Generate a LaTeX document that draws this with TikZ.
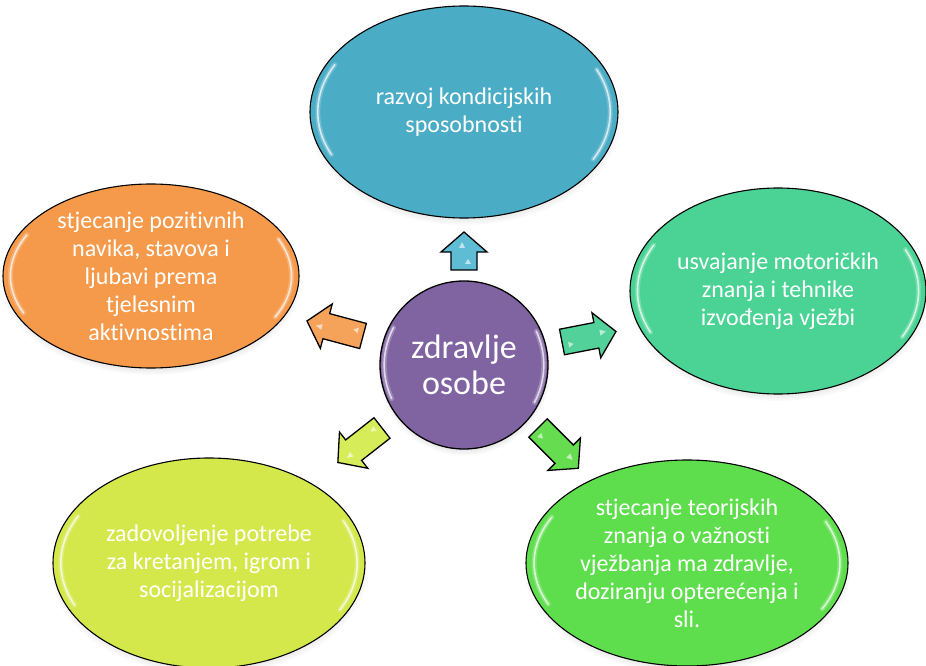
\documentclass[tikz,border=0pt]{standalone}
\usepackage{fontspec}
\setmainfont{Carlito}[Ligatures=NoCommon]
\usetikzlibrary{shapes.geometric,calc,shadows}
\definecolor{cblue}{HTML}{4BACC6}
\definecolor{corange}{HTML}{F5994A}
\definecolor{cteal}{HTML}{4AD394}
\definecolor{cyellow}{HTML}{D4E84C}
\definecolor{cgreen}{HTML}{5EDE4C}
\definecolor{cpurple}{HTML}{8064A2}
\definecolor{ablue}{HTML}{5EBDD5}
\definecolor{aorange}{HTML}{F5A25A}
\definecolor{ateal}{HTML}{52D29A}
\definecolor{ayellow}{HTML}{D6EC58}
\definecolor{agreen}{HTML}{66DC50}
\tikzset{
  bubble/.style={ellipse, draw=black, line width=1.1pt, text=white, align=center,
    inner sep=0pt, font=\fontsize{24}{28}\selectfont,
    circular drop shadow={shadow xshift=0pt, shadow yshift=-5pt, shadow scale=1.02, opacity=0.35}},
  hub/.style={circle, draw=black, line width=1.3pt, text=white, align=center, inner sep=0pt,
    font=\fontsize{34}{36}\selectfont, fill=cpurple,
    circular drop shadow={shadow xshift=0pt, shadow yshift=-4pt, shadow scale=1.03, opacity=0.35}},
  blockarrow/.style={draw=black, line width=1.3pt, line join=miter},
  glosswide/.style={white, line width=5pt, opacity=0.22, line cap=round},
  glossline/.style={white, line width=1.6pt, opacity=0.7, line cap=round}
}
\newcommand{\glossarc}[5]{%
  \draw[glosswide] ($(#1.center)+(#4:{#2*0.95} and {#3*0.95})$)
     arc[start angle=#4, end angle=#5, x radius={#2*0.95}, y radius={#3*0.95}];
  \draw[glossline] ($(#1.center)+(#4:{#2*0.95} and {#3*0.95})$)
     arc[start angle=#4, end angle=#5, x radius={#2*0.95}, y radius={#3*0.95}];}
\newcommand{\gloss}[3]{\glossarc{#1}{#2}{#3}{152}{205}\glossarc{#1}{#2}{#3}{-28}{25}}
\newcommand{\blockarr}[4]{% tail coordinate, angle, length, colour
  \begin{scope}[shift={(#1)}, rotate=#2]
    \draw[blockarrow, fill=#4] (0,-13) -- ({#3-20},-13) -- ({#3-20},-23) -- (#3,0)
      -- ({#3-20},23) -- ({#3-20},13) -- (0,13) -- cycle;
    \fill[white, opacity=0.6] ({#3-16},5) -- ({#3-10},2) -- ({#3-16},-1) -- cycle;
    \fill[white, opacity=0.6] (6,-7) -- (11,-4) -- (6,-1) -- cycle;
  \end{scope}}
\begin{document}
\begin{tikzpicture}[x=1pt,y=1pt]
\useasboundingbox (0,0) rectangle (926,665);
% bubbles
\node[bubble, fill=cblue, minimum width=308pt, minimum height=212pt] (top) at (464,553)
  {razvoj kondicijskih\\sposobnosti};
\node[bubble, fill=corange, minimum width=296pt, minimum height=184pt] (left) at (151,389)
  {stjecanje pozitivnih\\navika, stavova i\\ljubavi prema\\tjelesnim\\aktivnostima};
\node[bubble, fill=cteal, minimum width=296pt, minimum height=206pt] (right) at (778,374)
  {usvajanje motoričkih\\znanja i tehnike\\izvođenja vježbi};
\node[bubble, fill=cyellow, minimum width=312pt, minimum height=210pt] (lowleft) at (209,102)
  {zadovoljenje potrebe\\za kretanjem, igrom i\\socijalizacijom};
\node[bubble, fill=cgreen, minimum width=322pt, minimum height=206pt] (lowright) at (687,102)
  {stjecanje teorijskih\\znanja o važnosti\\vježbanja ma zdravlje,\\doziranju opterećenja i\\sli.};
\gloss{top}{154}{106}
\gloss{left}{148}{92}
\gloss{right}{148}{103}
\gloss{lowleft}{156}{105}
\gloss{lowright}{161}{103}
% hub
\node[hub, minimum size=168pt] (hub) at (464,300) {zdravlje\\osobe};
\gloss{hub}{84}{84}
% arrows
\coordinate (aTop) at (464,395);
\coordinate (aLeft) at (363,329);
\coordinate (aRight) at (562,323);
\coordinate (aLowLeft) at (382,237);
\coordinate (aLowRight) at (538,237);
\blockarr{aTop}{90}{38}{ablue}
\blockarr{aLeft}{165}{58}{aorange}
\blockarr{aRight}{11}{55}{ateal}
\blockarr{aLowLeft}{218}{56}{ayellow}
\blockarr{aLowRight}{-45}{57}{agreen}
\end{tikzpicture}
\end{document}
